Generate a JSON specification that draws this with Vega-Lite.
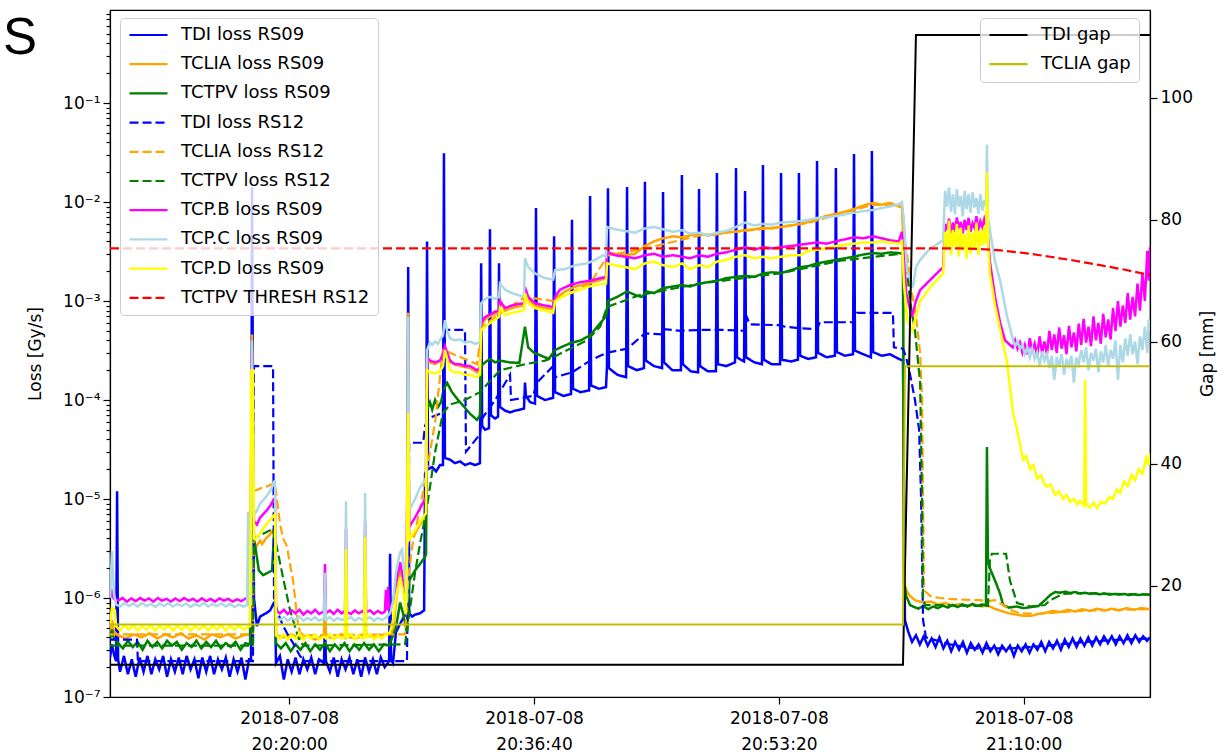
{
"$schema": "https://vega.github.io/schema/vega-lite/v6.json",
"width": 1040,
"height": 687,
"autosize": {"type": "none"},
"padding": {"left": 110, "top": 10, "right": 78, "bottom": 55},
"background": "white",
"title": {"text": "S", "orient": "none", "anchor": "start", "frame": "group", "dx": -107, "dy": 44, "fontSize": 51, "font": "Liberation Sans", "fontWeight": "normal", "color": "black", "baseline": "alphabetic", "align": "left"},
"config": {
  "font": "DejaVu Sans",
  "view": {"stroke": "black", "strokeWidth": 1.2},
  "axis": {"domainColor": "black", "domainWidth": 1.2, "tickColor": "black", "tickWidth": 1.2, "tickSize": 7, "labelColor": "black", "titleColor": "black", "grid": false, "labelFontSize": 17, "titleFontSize": 17, "titleFontWeight": "normal", "labelPadding": 3},
  "legend": {"labelFontSize": 18, "labelColor": "black", "symbolType": "stroke", "symbolSize": 1444, "symbolStrokeWidth": 2.2, "labelOffset": 12, "rowPadding": 11.2, "clipHeight": 18, "padding": 8, "fillColor": "rgba(255,255,255,0.8)", "strokeColor": "#cccccc", "cornerRadius": 4, "labelLimit": 400}
},
"datasets": {
"tdi09": [{"t":468,"v":2.5e-7},{"t":476,"v":3.4e-7},{"t":484,"v":2.7e-7},{"t":493,"v":2.3e-7},{"t":497,"v":1.2e-5},{"t":501,"v":2.4e-7},{"t":509,"v":1.8e-7},{"t":525,"v":2.6e-7},{"t":541,"v":1.7e-7},{"t":557,"v":2.4e-7},{"t":573,"v":1.6e-7},{"t":589,"v":2.5e-7},{"t":605,"v":1.8e-7},{"t":621,"v":2.6e-7},{"t":637,"v":1.7e-7},{"t":653,"v":2.4e-7},{"t":669,"v":1.9e-7},{"t":685,"v":2.6e-7},{"t":701,"v":1.6e-7},{"t":717,"v":2.4e-7},{"t":733,"v":1.8e-7},{"t":749,"v":2.5e-7},{"t":765,"v":1.7e-7},{"t":781,"v":2.6e-7},{"t":797,"v":1.9e-7},{"t":813,"v":2.4e-7},{"t":829,"v":1.55e-7},{"t":845,"v":2.5e-7},{"t":861,"v":1.8e-7},{"t":877,"v":2.6e-7},{"t":893,"v":1.7e-7},{"t":909,"v":2.4e-7},{"t":925,"v":1.9e-7},{"t":941,"v":2.5e-7},{"t":957,"v":1.6e-7},{"t":973,"v":2.4e-7},{"t":989,"v":1.8e-7},{"t":1005,"v":2.5e-7},{"t":1021,"v":1.5e-7},{"t":1036,"v":2.4e-7},{"t":1044,"v":2.4e-7},{"t":1048,"v":1.4e-2},{"t":1056,"v":1.0e-6},{"t":1068,"v":5.2e-7},{"t":1081,"v":6.5e-7},{"t":1105,"v":7.0e-7},{"t":1122,"v":7.5e-7},{"t":1138,"v":9.0e-7},{"t":1142,"v":9.0e-7},{"t":1146,"v":2.2e-7},{"t":1162,"v":2.6e-7},{"t":1178,"v":1.5e-7},{"t":1194,"v":2.4e-7},{"t":1210,"v":1.8e-7},{"t":1226,"v":2.5e-7},{"t":1242,"v":1.7e-7},{"t":1258,"v":2.4e-7},{"t":1274,"v":1.9e-7},{"t":1290,"v":2.5e-7},{"t":1306,"v":1.7e-7},{"t":1322,"v":2.4e-7},{"t":1342,"v":2.2e-7},{"t":1346,"v":5.5e-7},{"t":1350,"v":2.3e-7},{"t":1366,"v":1.8e-7},{"t":1382,"v":2.5e-7},{"t":1398,"v":1.6e-7},{"t":1414,"v":2.4e-7},{"t":1430,"v":1.9e-7},{"t":1446,"v":2.5e-7},{"t":1462,"v":1.7e-7},{"t":1478,"v":2.4e-7},{"t":1494,"v":1.6e-7},{"t":1510,"v":2.5e-7},{"t":1526,"v":1.8e-7},{"t":1542,"v":2.4e-7},{"t":1558,"v":1.7e-7},{"t":1574,"v":2.5e-7},{"t":1590,"v":2.0e-7},{"t":1608,"v":2.3e-7},{"t":1612,"v":2.8e-6},{"t":1616,"v":2.4e-7},{"t":1624,"v":2.2e-7},{"t":1636,"v":4.5e-7},{"t":1653,"v":5.5e-7},{"t":1669,"v":6.5e-7},{"t":1681,"v":7.0e-7},{"t":1686,"v":2.2e-3},{"t":1690,"v":7.0e-7},{"t":1702,"v":6.5e-7},{"t":1714,"v":6.8e-7},{"t":1734,"v":7.0e-7},{"t":1751,"v":7.5e-7},{"t":1755,"v":1.8e-5},{"t":1759,"v":1.9e-5},{"t":1763,"v":4.0e-3},{"t":1767,"v":2.0e-5},{"t":1784,"v":2.1e-5},{"t":1800,"v":1.9e-5},{"t":1816,"v":2.2e-5},{"t":1828,"v":2.2e-5},{"t":1832,"v":3.1e-2},{"t":1836,"v":2.6e-5},{"t":1857,"v":2.5e-5},{"t":1877,"v":2.3e-5},{"t":1898,"v":2.4e-5},{"t":1918,"v":2.2e-5},{"t":1939,"v":2.3e-5},{"t":1959,"v":2.2e-5},{"t":1979,"v":2.3e-5},{"t":1984,"v":2.4e-3},{"t":1988,"v":5.5e-5},{"t":2000,"v":5.0e-5},{"t":2016,"v":5.2e-5},{"t":2020,"v":5.3e-3},{"t":2024,"v":7.0e-5},{"t":2041,"v":6.5e-5},{"t":2053,"v":6.8e-5},{"t":2057,"v":2.4e-3},{"t":2061,"v":8.5e-5},{"t":2082,"v":7.8e-5},{"t":2102,"v":7.5e-5},{"t":2122,"v":7.8e-5},{"t":2143,"v":8.0e-5},{"t":2159,"v":8.2e-5},{"t":2163,"v":1.5e-4},{"t":2167,"v":1.1e-4},{"t":2184,"v":9.5e-5},{"t":2204,"v":9.2e-5},{"t":2208,"v":8.7e-3},{"t":2212,"v":1.1e-4},{"t":2245,"v":1.0e-4},{"t":2278,"v":1.05e-4},{"t":2282,"v":4.5e-3},{"t":2286,"v":1.2e-4},{"t":2320,"v":1.1e-4},{"t":2351,"v":1.15e-4},{"t":2355,"v":6.6e-3},{"t":2359,"v":1.3e-4},{"t":2390,"v":1.2e-4},{"t":2425,"v":1.25e-4},{"t":2429,"v":1.15e-2},{"t":2433,"v":1.4e-4},{"t":2465,"v":1.3e-4},{"t":2494,"v":1.35e-4},{"t":2498,"v":2.2e-4},{"t":2502,"v":1.38e-2},{"t":2506,"v":2.1e-4},{"t":2540,"v":1.8e-4},{"t":2576,"v":1.7e-4},{"t":2580,"v":1.42e-2},{"t":2584,"v":2.2e-4},{"t":2620,"v":2.0e-4},{"t":2649,"v":2.1e-4},{"t":2653,"v":1.6e-2},{"t":2657,"v":2.5e-4},{"t":2690,"v":2.2e-4},{"t":2723,"v":2.1e-4},{"t":2727,"v":1.26e-2},{"t":2731,"v":2.4e-4},{"t":2765,"v":2.0e-4},{"t":2800,"v":2.0e-4},{"t":2804,"v":1.87e-2},{"t":2808,"v":2.3e-4},{"t":2840,"v":1.95e-4},{"t":2870,"v":1.9e-4},{"t":2874,"v":1.35e-2},{"t":2878,"v":2.2e-4},{"t":2910,"v":1.95e-4},{"t":2943,"v":1.95e-4},{"t":2947,"v":1.96e-2},{"t":2951,"v":2.3e-4},{"t":2985,"v":2.2e-4},{"t":3021,"v":2.4e-4},{"t":3025,"v":2.2e-2},{"t":3029,"v":2.7e-4},{"t":3045,"v":2.55e-4},{"t":3058,"v":2.45e-4},{"t":3062,"v":1.29e-2},{"t":3066,"v":2.7e-4},{"t":3100,"v":2.4e-4},{"t":3131,"v":2.3e-4},{"t":3135,"v":2.36e-2},{"t":3139,"v":2.55e-4},{"t":3170,"v":2.3e-4},{"t":3205,"v":2.3e-4},{"t":3209,"v":1.96e-2},{"t":3213,"v":2.55e-4},{"t":3250,"v":2.45e-4},{"t":3278,"v":2.55e-4},{"t":3282,"v":1.96e-2},{"t":3287,"v":2.8e-4},{"t":3320,"v":2.6e-4},{"t":3352,"v":2.7e-4},{"t":3356,"v":2.6e-2},{"t":3360,"v":3.0e-4},{"t":3395,"v":2.7e-4},{"t":3429,"v":2.8e-4},{"t":3433,"v":2.2e-2},{"t":3437,"v":3.05e-4},{"t":3470,"v":2.8e-4},{"t":3503,"v":2.9e-4},{"t":3507,"v":3.06e-2},{"t":3511,"v":3.15e-4},{"t":3545,"v":2.9e-4},{"t":3576,"v":2.7e-4},{"t":3580,"v":3.27e-2},{"t":3585,"v":3.05e-4},{"t":3620,"v":2.8e-4},{"t":3654,"v":2.9e-4},{"t":3690,"v":2.6e-4},{"t":3707,"v":2.5e-4},{"t":3715,"v":6.0e-7},{"t":3728,"v":4.6e-7},{"t":3744,"v":3.6e-7},{"t":3760,"v":4.2e-7},{"t":3776,"v":3.4e-7},{"t":3792,"v":4.1e-7},{"t":3808,"v":3.3e-7},{"t":3824,"v":3.9e-7},{"t":3840,"v":3.2e-7},{"t":3856,"v":4.0e-7},{"t":3872,"v":3.1e-7},{"t":3888,"v":3.7e-7},{"t":3904,"v":2.9e-7},{"t":3920,"v":3.6e-7},{"t":3936,"v":3.0e-7},{"t":3952,"v":3.6e-7},{"t":3968,"v":2.8e-7},{"t":3984,"v":3.5e-7},{"t":4000,"v":3.0e-7},{"t":4016,"v":3.4e-7},{"t":4032,"v":2.8e-7},{"t":4048,"v":3.5e-7},{"t":4064,"v":2.9e-7},{"t":4080,"v":3.3e-7},{"t":4096,"v":2.7e-7},{"t":4112,"v":3.3e-7},{"t":4128,"v":2.9e-7},{"t":4144,"v":3.3e-7},{"t":4160,"v":2.6e-7},{"t":4176,"v":3.3e-7},{"t":4192,"v":2.9e-7},{"t":4208,"v":3.4e-7},{"t":4224,"v":2.8e-7},{"t":4240,"v":3.4e-7},{"t":4256,"v":3.0e-7},{"t":4272,"v":3.6e-7},{"t":4288,"v":2.9e-7},{"t":4304,"v":3.6e-7},{"t":4320,"v":3.1e-7},{"t":4336,"v":3.7e-7},{"t":4352,"v":3.0e-7},{"t":4368,"v":3.8e-7},{"t":4384,"v":3.2e-7},{"t":4400,"v":3.9e-7},{"t":4416,"v":3.2e-7},{"t":4432,"v":3.9e-7},{"t":4448,"v":3.3e-7},{"t":4464,"v":4.0e-7},{"t":4480,"v":3.3e-7},{"t":4496,"v":4.0e-7},{"t":4512,"v":3.4e-7},{"t":4528,"v":4.1e-7},{"t":4544,"v":3.5e-7},{"t":4560,"v":4.1e-7},{"t":4576,"v":3.4e-7},{"t":4592,"v":4.1e-7},{"t":4608,"v":3.5e-7},{"t":4624,"v":4.2e-7},{"t":4640,"v":3.5e-7},{"t":4656,"v":4.2e-7},{"t":4672,"v":3.6e-7},{"t":4688,"v":4.1e-7},{"t":4704,"v":3.7e-7},{"t":4716,"v":4.0e-7}],
"tclia09": [{"t":468,"v":4.5e-7},{"t":476,"v":6.0e-7},{"t":484,"v":4.6e-7},{"t":501,"v":4.2e-7},{"t":533,"v":3.9e-7},{"t":565,"v":4.3e-7},{"t":597,"v":4.0e-7},{"t":629,"v":4.4e-7},{"t":661,"v":3.9e-7},{"t":693,"v":4.3e-7},{"t":725,"v":4.0e-7},{"t":757,"v":4.4e-7},{"t":789,"v":3.9e-7},{"t":821,"v":4.2e-7},{"t":853,"v":3.8e-7},{"t":885,"v":4.3e-7},{"t":917,"v":4.0e-7},{"t":949,"v":4.3e-7},{"t":981,"v":3.9e-7},{"t":1013,"v":4.2e-7},{"t":1040,"v":4.3e-7},{"t":1048,"v":4.6e-4},{"t":1056,"v":3.0e-6},{"t":1068,"v":3.4e-6},{"t":1081,"v":3.8e-6},{"t":1089,"v":3.5e-6},{"t":1105,"v":4.0e-6},{"t":1122,"v":4.4e-6},{"t":1138,"v":5.0e-6},{"t":1142,"v":5.0e-6},{"t":1146,"v":4.2e-7},{"t":1178,"v":4.0e-7},{"t":1210,"v":4.3e-7},{"t":1242,"v":3.9e-7},{"t":1274,"v":4.2e-7},{"t":1306,"v":3.8e-7},{"t":1342,"v":4.2e-7},{"t":1346,"v":1.5e-6},{"t":1350,"v":4.1e-7},{"t":1382,"v":3.9e-7},{"t":1414,"v":4.3e-7},{"t":1428,"v":4.0e-7},{"t":1432,"v":2.5e-6},{"t":1436,"v":4.1e-7},{"t":1470,"v":3.9e-7},{"t":1506,"v":4.2e-7},{"t":1510,"v":3.0e-6},{"t":1514,"v":4.2e-7},{"t":1550,"v":4.0e-7},{"t":1590,"v":4.3e-7},{"t":1624,"v":4.5e-7},{"t":1636,"v":9.0e-7},{"t":1653,"v":1.9e-6},{"t":1661,"v":1.7e-6},{"t":1673,"v":1.0e-6},{"t":1681,"v":7.0e-7},{"t":1686,"v":7.6e-4},{"t":1690,"v":4.0e-6},{"t":1714,"v":4.5e-6},{"t":1734,"v":5.5e-6},{"t":1755,"v":6.5e-6},{"t":1759,"v":7.0e-6},{"t":1763,"v":2.6e-4},{"t":1775,"v":2.4e-4},{"t":1796,"v":2.3e-4},{"t":1816,"v":2.5e-4},{"t":1828,"v":2.9e-4},{"t":1836,"v":3.3e-4},{"t":1857,"v":2.4e-4},{"t":1898,"v":2.2e-4},{"t":1939,"v":2.1e-4},{"t":1967,"v":1.9e-4},{"t":1979,"v":2.0e-4},{"t":1984,"v":5.6e-4},{"t":2000,"v":6.5e-4},{"t":2020,"v":7.0e-4},{"t":2041,"v":7.4e-4},{"t":2057,"v":7.6e-4},{"t":2061,"v":1.0e-3},{"t":2082,"v":8.0e-4},{"t":2110,"v":8.5e-4},{"t":2135,"v":8.8e-4},{"t":2159,"v":9.0e-4},{"t":2163,"v":1.3e-3},{"t":2176,"v":1.05e-3},{"t":2204,"v":9.0e-4},{"t":2245,"v":8.5e-4},{"t":2278,"v":8.3e-4},{"t":2286,"v":1.05e-3},{"t":2327,"v":1.25e-3},{"t":2368,"v":1.4e-3},{"t":2417,"v":1.5e-3},{"t":2461,"v":1.6e-3},{"t":2494,"v":1.7e-3},{"t":2498,"v":3.1e-3},{"t":2531,"v":3.0e-3},{"t":2572,"v":2.9e-3},{"t":2613,"v":3.0e-3},{"t":2633,"v":3.3e-3},{"t":2653,"v":3.6e-3},{"t":2690,"v":4.0e-3},{"t":2727,"v":4.3e-3},{"t":2768,"v":4.5e-3},{"t":2804,"v":4.4e-3},{"t":2837,"v":4.6e-3},{"t":2874,"v":4.8e-3},{"t":2910,"v":4.6e-3},{"t":2943,"v":4.7e-3},{"t":2980,"v":4.9e-3},{"t":3021,"v":5.0e-3},{"t":3062,"v":5.2e-3},{"t":3100,"v":5.3e-3},{"t":3135,"v":5.5e-3},{"t":3170,"v":5.4e-3},{"t":3209,"v":5.6e-3},{"t":3250,"v":5.8e-3},{"t":3287,"v":6.0e-3},{"t":3320,"v":6.3e-3},{"t":3356,"v":6.7e-3},{"t":3390,"v":7.2e-3},{"t":3433,"v":7.6e-3},{"t":3470,"v":8.0e-3},{"t":3507,"v":8.5e-3},{"t":3545,"v":9.2e-3},{"t":3585,"v":9.8e-3},{"t":3620,"v":9.4e-3},{"t":3654,"v":9.8e-3},{"t":3690,"v":9.0e-3},{"t":3703,"v":8.8e-3},{"t":3707,"v":5.0e-3},{"t":3711,"v":2.0e-6},{"t":3715,"v":1.3e-6},{"t":3724,"v":1.15e-6},{"t":3736,"v":1.05e-6},{"t":3756,"v":9.5e-7},{"t":3789,"v":9.0e-7},{"t":3820,"v":9.2e-7},{"t":3850,"v":8.6e-7},{"t":3880,"v":8.9e-7},{"t":3910,"v":8.4e-7},{"t":3940,"v":8.7e-7},{"t":3970,"v":8.3e-7},{"t":4000,"v":8.6e-7},{"t":4030,"v":8.2e-7},{"t":4046,"v":8.4e-7},{"t":4050,"v":1.0e-6},{"t":4054,"v":8.4e-7},{"t":4080,"v":7.8e-7},{"t":4110,"v":7.4e-7},{"t":4140,"v":7.0e-7},{"t":4170,"v":6.8e-7},{"t":4200,"v":6.6e-7},{"t":4230,"v":6.6e-7},{"t":4260,"v":6.9e-7},{"t":4290,"v":7.1e-7},{"t":4320,"v":7.4e-7},{"t":4350,"v":7.2e-7},{"t":4380,"v":7.6e-7},{"t":4410,"v":7.3e-7},{"t":4440,"v":7.7e-7},{"t":4470,"v":7.4e-7},{"t":4500,"v":7.8e-7},{"t":4530,"v":7.5e-7},{"t":4560,"v":7.8e-7},{"t":4590,"v":7.5e-7},{"t":4620,"v":7.9e-7},{"t":4650,"v":7.6e-7},{"t":4680,"v":7.9e-7},{"t":4716,"v":7.7e-7}],
"tctpv09": [{"t":468,"v":3.8e-7},{"t":476,"v":4.8e-7},{"t":484,"v":3.9e-7},{"t":501,"v":3.5e-7},{"t":521,"v":3.1e-7},{"t":541,"v":3.7e-7},{"t":561,"v":3.2e-7},{"t":581,"v":3.6e-7},{"t":601,"v":3.0e-7},{"t":621,"v":3.7e-7},{"t":641,"v":3.2e-7},{"t":661,"v":3.6e-7},{"t":681,"v":3.1e-7},{"t":701,"v":3.7e-7},{"t":721,"v":3.3e-7},{"t":741,"v":3.6e-7},{"t":761,"v":3.0e-7},{"t":781,"v":3.5e-7},{"t":801,"v":3.2e-7},{"t":821,"v":3.7e-7},{"t":841,"v":3.1e-7},{"t":861,"v":3.6e-7},{"t":881,"v":3.2e-7},{"t":901,"v":3.7e-7},{"t":921,"v":3.1e-7},{"t":941,"v":3.5e-7},{"t":961,"v":3.2e-7},{"t":981,"v":3.6e-7},{"t":1001,"v":3.0e-7},{"t":1021,"v":3.5e-7},{"t":1040,"v":3.4e-7},{"t":1048,"v":1.0e-4},{"t":1056,"v":4.0e-6},{"t":1064,"v":3.0e-6},{"t":1076,"v":1.9e-6},{"t":1093,"v":1.7e-6},{"t":1113,"v":1.8e-6},{"t":1130,"v":1.9e-6},{"t":1138,"v":4.5e-6},{"t":1142,"v":4.8e-6},{"t":1146,"v":3.5e-7},{"t":1166,"v":3.1e-7},{"t":1186,"v":3.5e-7},{"t":1206,"v":2.9e-7},{"t":1226,"v":3.4e-7},{"t":1246,"v":3.0e-7},{"t":1266,"v":3.5e-7},{"t":1286,"v":2.9e-7},{"t":1306,"v":3.4e-7},{"t":1326,"v":3.0e-7},{"t":1346,"v":3.5e-7},{"t":1366,"v":2.9e-7},{"t":1386,"v":3.4e-7},{"t":1406,"v":3.0e-7},{"t":1426,"v":3.5e-7},{"t":1446,"v":2.9e-7},{"t":1466,"v":3.4e-7},{"t":1486,"v":3.0e-7},{"t":1506,"v":3.5e-7},{"t":1526,"v":3.0e-7},{"t":1546,"v":3.4e-7},{"t":1566,"v":2.9e-7},{"t":1586,"v":3.4e-7},{"t":1608,"v":3.3e-7},{"t":1636,"v":5.0e-7},{"t":1653,"v":9.0e-7},{"t":1665,"v":7.0e-7},{"t":1681,"v":4.5e-7},{"t":1690,"v":1.5e-6},{"t":1714,"v":1.9e-6},{"t":1734,"v":2.2e-6},{"t":1755,"v":2.6e-6},{"t":1759,"v":2.8e-6},{"t":1763,"v":8.0e-5},{"t":1775,"v":9.5e-5},{"t":1784,"v":8.0e-5},{"t":1796,"v":1.0e-4},{"t":1808,"v":8.5e-5},{"t":1820,"v":9.5e-5},{"t":1832,"v":1.3e-4},{"t":1845,"v":1.49e-4},{"t":1865,"v":1.2e-4},{"t":1890,"v":1.0e-4},{"t":1915,"v":8.5e-5},{"t":1940,"v":7.2e-5},{"t":1967,"v":6.3e-5},{"t":1979,"v":7.0e-5},{"t":1984,"v":2.2e-4},{"t":2000,"v":2.4e-4},{"t":2020,"v":2.6e-4},{"t":2041,"v":2.4e-4},{"t":2061,"v":2.5e-4},{"t":2100,"v":2.4e-4},{"t":2140,"v":2.37e-4},{"t":2163,"v":5.5e-4},{"t":2176,"v":3.4e-4},{"t":2200,"v":3.0e-4},{"t":2230,"v":2.8e-4},{"t":2260,"v":2.6e-4},{"t":2286,"v":3.2e-4},{"t":2320,"v":3.5e-4},{"t":2355,"v":3.8e-4},{"t":2390,"v":4.0e-4},{"t":2429,"v":4.5e-4},{"t":2461,"v":5.6e-4},{"t":2494,"v":7.0e-4},{"t":2502,"v":1.0e-3},{"t":2540,"v":1.1e-3},{"t":2580,"v":1.25e-3},{"t":2613,"v":1.15e-3},{"t":2640,"v":1.1e-3},{"t":2660,"v":1.25e-3},{"t":2690,"v":1.2e-3},{"t":2727,"v":1.35e-3},{"t":2768,"v":1.4e-3},{"t":2804,"v":1.45e-3},{"t":2837,"v":1.4e-3},{"t":2874,"v":1.5e-3},{"t":2910,"v":1.55e-3},{"t":2947,"v":1.6e-3},{"t":2985,"v":1.7e-3},{"t":3025,"v":1.75e-3},{"t":3062,"v":1.8e-3},{"t":3100,"v":1.75e-3},{"t":3135,"v":1.9e-3},{"t":3170,"v":1.95e-3},{"t":3209,"v":1.92e-3},{"t":3250,"v":2.05e-3},{"t":3287,"v":2.2e-3},{"t":3320,"v":2.25e-3},{"t":3356,"v":2.4e-3},{"t":3395,"v":2.5e-3},{"t":3433,"v":2.6e-3},{"t":3470,"v":2.7e-3},{"t":3507,"v":2.8e-3},{"t":3545,"v":2.95e-3},{"t":3585,"v":3.05e-3},{"t":3620,"v":3.0e-3},{"t":3654,"v":3.1e-3},{"t":3690,"v":3.05e-3},{"t":3707,"v":3.0e-3},{"t":3711,"v":1.5e-6},{"t":3720,"v":1.05e-6},{"t":3736,"v":8.5e-7},{"t":3748,"v":8.2e-7},{"t":3770,"v":7.8e-7},{"t":3790,"v":8.3e-7},{"t":3810,"v":7.7e-7},{"t":3830,"v":8.2e-7},{"t":3850,"v":7.9e-7},{"t":3870,"v":8.4e-7},{"t":3890,"v":8.0e-7},{"t":3910,"v":8.5e-7},{"t":3930,"v":8.1e-7},{"t":3950,"v":8.6e-7},{"t":3970,"v":8.2e-7},{"t":3990,"v":8.7e-7},{"t":4010,"v":8.3e-7},{"t":4030,"v":8.6e-7},{"t":4046,"v":8.4e-7},{"t":4050,"v":3.35e-5},{"t":4054,"v":2.4e-6},{"t":4062,"v":2.0e-6},{"t":4083,"v":1.5e-6},{"t":4104,"v":1.1e-6},{"t":4116,"v":8.5e-7},{"t":4140,"v":8.0e-7},{"t":4170,"v":8.2e-7},{"t":4200,"v":7.9e-7},{"t":4230,"v":8.1e-7},{"t":4260,"v":8.3e-7},{"t":4287,"v":9.5e-7},{"t":4308,"v":1.07e-6},{"t":4328,"v":1.15e-6},{"t":4349,"v":1.13e-6},{"t":4370,"v":1.16e-6},{"t":4390,"v":1.12e-6},{"t":4410,"v":1.15e-6},{"t":4430,"v":1.11e-6},{"t":4450,"v":1.13e-6},{"t":4470,"v":1.10e-6},{"t":4490,"v":1.12e-6},{"t":4510,"v":1.09e-6},{"t":4530,"v":1.11e-6},{"t":4550,"v":1.08e-6},{"t":4570,"v":1.10e-6},{"t":4590,"v":1.08e-6},{"t":4610,"v":1.10e-6},{"t":4630,"v":1.07e-6},{"t":4650,"v":1.09e-6},{"t":4670,"v":1.07e-6},{"t":4690,"v":1.09e-6},{"t":4716,"v":1.08e-6}],
"tdi12": [{"t":468,"v":3.8e-7},{"t":578,"v":3.8e-7},{"t":582,"v":2.3e-7},{"t":1052,"v":2.3e-7},{"t":1056,"v":2.2e-4},{"t":1134,"v":2.2e-4},{"t":1138,"v":1.0e-6},{"t":1150,"v":7.5e-7},{"t":1171,"v":5.5e-7},{"t":1191,"v":4.4e-7},{"t":1216,"v":3.5e-7},{"t":1244,"v":2.6e-7},{"t":1265,"v":2.3e-7},{"t":1681,"v":2.3e-7},{"t":1690,"v":3.7e-5},{"t":1747,"v":3.7e-5},{"t":1755,"v":5.5e-5},{"t":1767,"v":6.5e-5},{"t":1800,"v":7.0e-5},{"t":1828,"v":7.5e-5},{"t":1836,"v":5.1e-4},{"t":1918,"v":5.1e-4},{"t":1922,"v":3.0e-5},{"t":1979,"v":4.5e-5},{"t":1988,"v":6.5e-5},{"t":2041,"v":1.0e-4},{"t":2102,"v":1.8e-4},{"t":2106,"v":1.0e-4},{"t":2196,"v":1.1e-4},{"t":2212,"v":1.5e-4},{"t":2278,"v":2.2e-4},{"t":2286,"v":1.7e-4},{"t":2355,"v":1.9e-4},{"t":2429,"v":2.5e-4},{"t":2470,"v":2.8e-4},{"t":2498,"v":3.0e-4},{"t":2580,"v":3.3e-4},{"t":2653,"v":4.7e-4},{"t":2723,"v":4.6e-4},{"t":2731,"v":5.2e-4},{"t":2800,"v":5.0e-4},{"t":2878,"v":5.1e-4},{"t":2980,"v":5.1e-4},{"t":3062,"v":5.0e-4},{"t":3070,"v":6.8e-4},{"t":3082,"v":5.8e-4},{"t":3205,"v":5.7e-4},{"t":3225,"v":5.5e-4},{"t":3287,"v":5.3e-4},{"t":3356,"v":5.2e-4},{"t":3368,"v":6.1e-4},{"t":3503,"v":6.1e-4},{"t":3519,"v":7.6e-4},{"t":3666,"v":7.6e-4},{"t":3670,"v":3.4e-4},{"t":3707,"v":3.3e-4},{"t":3720,"v":2.7e-4},{"t":3736,"v":1.8e-4},{"t":3756,"v":1.0e-4},{"t":3773,"v":5.0e-5},{"t":3781,"v":1.0e-5},{"t":3789,"v":6.0e-7},{"t":3801,"v":4.0e-7},{"t":3900,"v":3.4e-7},{"t":4000,"v":3.1e-7},{"t":4150,"v":3.1e-7},{"t":4300,"v":3.3e-7},{"t":4450,"v":3.6e-7},{"t":4600,"v":3.8e-7},{"t":4716,"v":3.9e-7}],
"tclia12": [{"t":468,"v":4.3e-7},{"t":1052,"v":4.3e-7},{"t":1056,"v":1.2e-5},{"t":1089,"v":1.3e-5},{"t":1113,"v":1.35e-5},{"t":1138,"v":1.45e-5},{"t":1146,"v":1.2e-5},{"t":1162,"v":5.7e-6},{"t":1175,"v":4.0e-6},{"t":1191,"v":3.3e-6},{"t":1203,"v":2.2e-6},{"t":1216,"v":1.5e-6},{"t":1228,"v":8.0e-7},{"t":1236,"v":5.5e-7},{"t":1244,"v":4.5e-7},{"t":1260,"v":4.2e-7},{"t":1673,"v":4.3e-7},{"t":1686,"v":1.5e-6},{"t":1702,"v":3.3e-6},{"t":1734,"v":8.0e-6},{"t":1763,"v":2.0e-5},{"t":1796,"v":6.0e-5},{"t":1828,"v":3.2e-4},{"t":1857,"v":3.0e-4},{"t":1967,"v":2.3e-4},{"t":1988,"v":5.5e-4},{"t":2061,"v":7.5e-4},{"t":2163,"v":1.1e-3},{"t":2278,"v":1.0e-3},{"t":2429,"v":1.5e-3},{"t":2502,"v":2.9e-3},{"t":2633,"v":3.3e-3},{"t":2878,"v":4.6e-3},{"t":3123,"v":5.3e-3},{"t":3315,"v":6.1e-3},{"t":3585,"v":9.4e-3},{"t":3695,"v":9.2e-3},{"t":3707,"v":8.5e-3},{"t":3715,"v":4.0e-3},{"t":3728,"v":2.5e-3},{"t":3744,"v":1.2e-3},{"t":3760,"v":7.0e-4},{"t":3777,"v":3.0e-4},{"t":3785,"v":1.0e-4},{"t":3789,"v":1.0e-5},{"t":3793,"v":1.2e-6},{"t":3818,"v":1.05e-6},{"t":3858,"v":1.0e-6},{"t":3899,"v":9.8e-7},{"t":3960,"v":9.6e-7},{"t":4022,"v":9.5e-7},{"t":4054,"v":9.3e-7},{"t":4083,"v":9.5e-7},{"t":4116,"v":8.5e-7},{"t":4144,"v":7.6e-7},{"t":4185,"v":7.0e-7},{"t":4267,"v":6.9e-7},{"t":4349,"v":7.2e-7},{"t":4430,"v":7.4e-7},{"t":4512,"v":7.5e-7},{"t":4594,"v":7.6e-7},{"t":4716,"v":7.7e-7}],
"tctpv12": [{"t":468,"v":3.3e-7},{"t":1052,"v":3.3e-7},{"t":1056,"v":4.0e-6},{"t":1134,"v":5.0e-6},{"t":1138,"v":4.5e-6},{"t":1175,"v":1.6e-6},{"t":1203,"v":7.6e-7},{"t":1232,"v":4.4e-7},{"t":1244,"v":3.6e-7},{"t":1260,"v":3.3e-7},{"t":1673,"v":3.4e-7},{"t":1694,"v":8.0e-7},{"t":1714,"v":1.8e-6},{"t":1734,"v":3.5e-6},{"t":1763,"v":8.3e-6},{"t":1796,"v":3.0e-5},{"t":1828,"v":7.4e-5},{"t":1857,"v":9.0e-5},{"t":1918,"v":1.0e-4},{"t":1979,"v":1.2e-4},{"t":2061,"v":2.0e-4},{"t":2163,"v":2.3e-4},{"t":2245,"v":2.5e-4},{"t":2278,"v":2.7e-4},{"t":2347,"v":3.3e-4},{"t":2417,"v":4.0e-4},{"t":2470,"v":5.5e-4},{"t":2498,"v":8.7e-4},{"t":2633,"v":1.15e-3},{"t":2878,"v":1.5e-3},{"t":3205,"v":1.9e-3},{"t":3450,"v":2.55e-3},{"t":3695,"v":3.0e-3},{"t":3707,"v":3.0e-3},{"t":3720,"v":2.5e-3},{"t":3736,"v":1.0e-3},{"t":3756,"v":5.0e-4},{"t":3777,"v":1.5e-4},{"t":3785,"v":1.0e-5},{"t":3789,"v":1.0e-6},{"t":3797,"v":8.5e-7},{"t":4054,"v":8.3e-7},{"t":4062,"v":2.4e-6},{"t":4070,"v":2.8e-6},{"t":4128,"v":2.8e-6},{"t":4144,"v":1.5e-6},{"t":4173,"v":8.9e-7},{"t":4226,"v":8.2e-7},{"t":4287,"v":8.5e-7},{"t":4308,"v":9.5e-7},{"t":4361,"v":1.1e-6},{"t":4430,"v":1.12e-6},{"t":4716,"v":1.08e-6}],
"tcpb": [{"t":468,"v":1.0e-6},{"t":476,"v":1.15e-6},{"t":484,"v":9.8e-7},{"t":501,"v":9.4e-7},{"t":519,"v":1.0e-6},{"t":537,"v":9.2e-7},{"t":555,"v":9.9e-7},{"t":573,"v":9.3e-7},{"t":591,"v":1.0e-6},{"t":609,"v":9.4e-7},{"t":627,"v":9.9e-7},{"t":645,"v":9.2e-7},{"t":663,"v":1.0e-6},{"t":681,"v":9.4e-7},{"t":699,"v":9.8e-7},{"t":717,"v":9.2e-7},{"t":735,"v":9.9e-7},{"t":753,"v":9.3e-7},{"t":771,"v":1.0e-6},{"t":789,"v":9.4e-7},{"t":807,"v":9.8e-7},{"t":825,"v":9.2e-7},{"t":843,"v":9.9e-7},{"t":861,"v":9.3e-7},{"t":879,"v":9.8e-7},{"t":897,"v":9.2e-7},{"t":915,"v":9.9e-7},{"t":933,"v":9.4e-7},{"t":951,"v":9.8e-7},{"t":969,"v":9.2e-7},{"t":987,"v":9.7e-7},{"t":1005,"v":9.3e-7},{"t":1023,"v":9.9e-7},{"t":1040,"v":9.7e-7},{"t":1048,"v":3.0e-4},{"t":1056,"v":6.0e-6},{"t":1068,"v":5.5e-6},{"t":1081,"v":6.5e-6},{"t":1105,"v":7.5e-6},{"t":1122,"v":8.5e-6},{"t":1138,"v":1.0e-5},{"t":1142,"v":1.0e-5},{"t":1146,"v":7.5e-7},{"t":1162,"v":7.0e-7},{"t":1178,"v":7.6e-7},{"t":1194,"v":6.9e-7},{"t":1210,"v":7.5e-7},{"t":1226,"v":7.0e-7},{"t":1242,"v":7.6e-7},{"t":1258,"v":6.8e-7},{"t":1274,"v":7.4e-7},{"t":1290,"v":7.0e-7},{"t":1306,"v":7.6e-7},{"t":1322,"v":6.9e-7},{"t":1342,"v":7.3e-7},{"t":1346,"v":2.2e-6},{"t":1350,"v":7.0e-7},{"t":1366,"v":7.5e-7},{"t":1382,"v":6.9e-7},{"t":1398,"v":7.6e-7},{"t":1414,"v":7.0e-7},{"t":1428,"v":7.4e-7},{"t":1432,"v":5.0e-6},{"t":1436,"v":7.2e-7},{"t":1452,"v":6.9e-7},{"t":1468,"v":7.5e-7},{"t":1484,"v":7.0e-7},{"t":1500,"v":7.4e-7},{"t":1506,"v":7.0e-7},{"t":1510,"v":6.0e-6},{"t":1514,"v":7.2e-7},{"t":1530,"v":7.5e-7},{"t":1546,"v":6.9e-7},{"t":1562,"v":7.4e-7},{"t":1578,"v":7.0e-7},{"t":1591,"v":7.3e-7},{"t":1595,"v":1.2e-6},{"t":1600,"v":7.5e-7},{"t":1604,"v":1.3e-6},{"t":1608,"v":8.0e-7},{"t":1624,"v":9.0e-7},{"t":1636,"v":1.4e-6},{"t":1653,"v":2.3e-6},{"t":1665,"v":1.6e-6},{"t":1677,"v":9.0e-7},{"t":1686,"v":8.5e-5},{"t":1690,"v":5.2e-6},{"t":1714,"v":6.5e-6},{"t":1734,"v":8.0e-6},{"t":1755,"v":1.0e-5},{"t":1759,"v":1.05e-5},{"t":1763,"v":2.7e-4},{"t":1775,"v":2.5e-4},{"t":1796,"v":2.4e-4},{"t":1816,"v":2.5e-4},{"t":1828,"v":2.9e-4},{"t":1836,"v":3.5e-4},{"t":1857,"v":2.5e-4},{"t":1877,"v":2.3e-4},{"t":1898,"v":2.3e-4},{"t":1918,"v":2.2e-4},{"t":1939,"v":2.2e-4},{"t":1967,"v":2.0e-4},{"t":1979,"v":2.1e-4},{"t":1984,"v":6.0e-4},{"t":2000,"v":6.9e-4},{"t":2020,"v":7.3e-4},{"t":2041,"v":7.8e-4},{"t":2057,"v":8.0e-4},{"t":2061,"v":1.0e-3},{"t":2082,"v":8.5e-4},{"t":2110,"v":9.0e-4},{"t":2135,"v":9.3e-4},{"t":2159,"v":9.5e-4},{"t":2163,"v":1.38e-3},{"t":2176,"v":1.1e-3},{"t":2204,"v":9.5e-4},{"t":2245,"v":9.0e-4},{"t":2278,"v":8.7e-4},{"t":2286,"v":1.1e-3},{"t":2306,"v":1.3e-3},{"t":2347,"v":1.45e-3},{"t":2388,"v":1.55e-3},{"t":2429,"v":1.6e-3},{"t":2470,"v":1.7e-3},{"t":2494,"v":1.75e-3},{"t":2498,"v":3.1e-3},{"t":2531,"v":2.9e-3},{"t":2572,"v":2.8e-3},{"t":2613,"v":2.7e-3},{"t":2653,"v":2.9e-3},{"t":2690,"v":3.0e-3},{"t":2727,"v":2.8e-3},{"t":2768,"v":2.9e-3},{"t":2804,"v":2.8e-3},{"t":2837,"v":2.7e-3},{"t":2874,"v":2.9e-3},{"t":2910,"v":2.8e-3},{"t":2947,"v":3.0e-3},{"t":2985,"v":3.1e-3},{"t":3025,"v":3.3e-3},{"t":3062,"v":3.5e-3},{"t":3100,"v":3.3e-3},{"t":3135,"v":3.5e-3},{"t":3170,"v":3.4e-3},{"t":3209,"v":3.5e-3},{"t":3250,"v":3.6e-3},{"t":3287,"v":3.7e-3},{"t":3320,"v":3.8e-3},{"t":3356,"v":3.9e-3},{"t":3395,"v":3.8e-3},{"t":3433,"v":4.0e-3},{"t":3470,"v":4.2e-3},{"t":3507,"v":4.4e-3},{"t":3545,"v":4.3e-3},{"t":3585,"v":4.5e-3},{"t":3620,"v":4.3e-3},{"t":3654,"v":4.1e-3},{"t":3690,"v":4.0e-3},{"t":3703,"v":5.0e-3},{"t":3711,"v":3.0e-3},{"t":3720,"v":1.2e-3},{"t":3744,"v":6.9e-4},{"t":3760,"v":1.0e-3},{"t":3777,"v":1.29e-3},{"t":3818,"v":1.63e-3},{"t":3871,"v":2.2e-3},{"t":3879,"v":6.0e-3},{"t":3887,"v":5.2e-3},{"t":3895,"v":6.8e-3},{"t":3903,"v":4.9e-3},{"t":3911,"v":6.2e-3},{"t":3919,"v":5.0e-3},{"t":3927,"v":7.0e-3},{"t":3935,"v":5.4e-3},{"t":3943,"v":6.3e-3},{"t":3951,"v":4.8e-3},{"t":3959,"v":6.6e-3},{"t":3967,"v":5.2e-3},{"t":3975,"v":6.9e-3},{"t":3983,"v":5.0e-3},{"t":3991,"v":6.1e-3},{"t":3999,"v":5.5e-3},{"t":4007,"v":7.2e-3},{"t":4015,"v":5.1e-3},{"t":4023,"v":6.4e-3},{"t":4031,"v":5.6e-3},{"t":4039,"v":6.7e-3},{"t":4046,"v":5.8e-3},{"t":4050,"v":8.0e-3},{"t":4054,"v":4.5e-3},{"t":4062,"v":2.5e-3},{"t":4083,"v":1.1e-3},{"t":4104,"v":6.0e-4},{"t":4124,"v":4.0e-4},{"t":4144,"v":3.6e-4},{"t":4155,"v":3.4e-4},{"t":4165,"v":4.0e-4},{"t":4175,"v":3.3e-4},{"t":4185,"v":3.8e-4},{"t":4195,"v":3.0e-4},{"t":4205,"v":3.6e-4},{"t":4215,"v":2.9e-4},{"t":4225,"v":4.2e-4},{"t":4235,"v":3.1e-4},{"t":4245,"v":3.7e-4},{"t":4255,"v":2.8e-4},{"t":4265,"v":4.4e-4},{"t":4275,"v":3.0e-4},{"t":4285,"v":3.9e-4},{"t":4295,"v":2.9e-4},{"t":4305,"v":5.0e-4},{"t":4315,"v":3.2e-4},{"t":4325,"v":4.6e-4},{"t":4335,"v":3.0e-4},{"t":4345,"v":5.4e-4},{"t":4355,"v":3.3e-4},{"t":4365,"v":4.5e-4},{"t":4375,"v":2.9e-4},{"t":4385,"v":5.6e-4},{"t":4395,"v":3.4e-4},{"t":4405,"v":4.8e-4},{"t":4415,"v":3.1e-4},{"t":4425,"v":5.9e-4},{"t":4435,"v":3.6e-4},{"t":4445,"v":6.6e-4},{"t":4455,"v":3.8e-4},{"t":4465,"v":5.5e-4},{"t":4475,"v":3.5e-4},{"t":4485,"v":7.0e-4},{"t":4495,"v":4.0e-4},{"t":4505,"v":6.0e-4},{"t":4515,"v":3.7e-4},{"t":4525,"v":7.4e-4},{"t":4535,"v":4.3e-4},{"t":4545,"v":6.5e-4},{"t":4555,"v":4.1e-4},{"t":4565,"v":8.5e-4},{"t":4575,"v":5.0e-4},{"t":4585,"v":1.0e-3},{"t":4595,"v":5.5e-4},{"t":4605,"v":9.0e-4},{"t":4615,"v":6.0e-4},{"t":4625,"v":1.2e-3},{"t":4635,"v":6.5e-4},{"t":4645,"v":1.1e-3},{"t":4655,"v":7.0e-4},{"t":4665,"v":1.5e-3},{"t":4675,"v":8.0e-4},{"t":4685,"v":1.9e-3},{"t":4695,"v":1.0e-3},{"t":4705,"v":3.2e-3},{"t":4711,"v":1.6e-3},{"t":4716,"v":3.5e-3}],
"tcpc": [{"t":468,"v":1.0e-6},{"t":476,"v":3.0e-6},{"t":484,"v":1.1e-6},{"t":493,"v":8.6e-7},{"t":509,"v":8.2e-7},{"t":527,"v":8.9e-7},{"t":545,"v":8.3e-7},{"t":563,"v":8.8e-7},{"t":581,"v":8.2e-7},{"t":599,"v":8.9e-7},{"t":617,"v":8.3e-7},{"t":635,"v":8.7e-7},{"t":653,"v":8.1e-7},{"t":671,"v":8.8e-7},{"t":689,"v":8.3e-7},{"t":707,"v":8.9e-7},{"t":725,"v":8.2e-7},{"t":743,"v":8.7e-7},{"t":761,"v":8.3e-7},{"t":779,"v":8.8e-7},{"t":797,"v":8.1e-7},{"t":815,"v":8.7e-7},{"t":833,"v":8.3e-7},{"t":851,"v":8.9e-7},{"t":869,"v":8.2e-7},{"t":887,"v":8.7e-7},{"t":905,"v":8.3e-7},{"t":923,"v":8.8e-7},{"t":941,"v":8.2e-7},{"t":959,"v":8.7e-7},{"t":977,"v":8.1e-7},{"t":995,"v":8.6e-7},{"t":1013,"v":8.2e-7},{"t":1028,"v":8.5e-7},{"t":1032,"v":7.4e-6},{"t":1036,"v":8.5e-7},{"t":1044,"v":8.6e-7},{"t":1048,"v":4.0e-4},{"t":1056,"v":7.0e-6},{"t":1068,"v":7.6e-6},{"t":1081,"v":9.0e-6},{"t":1105,"v":1.05e-5},{"t":1122,"v":1.2e-5},{"t":1134,"v":1.4e-5},{"t":1142,"v":1.55e-5},{"t":1146,"v":6.4e-7},{"t":1162,"v":6.0e-7},{"t":1178,"v":6.4e-7},{"t":1194,"v":5.9e-7},{"t":1210,"v":6.3e-7},{"t":1226,"v":6.0e-7},{"t":1242,"v":6.5e-7},{"t":1258,"v":5.9e-7},{"t":1274,"v":6.3e-7},{"t":1290,"v":6.0e-7},{"t":1306,"v":6.4e-7},{"t":1322,"v":5.9e-7},{"t":1342,"v":6.2e-7},{"t":1346,"v":1.8e-6},{"t":1350,"v":6.0e-7},{"t":1366,"v":6.4e-7},{"t":1382,"v":5.9e-7},{"t":1398,"v":6.3e-7},{"t":1414,"v":6.0e-7},{"t":1428,"v":6.2e-7},{"t":1432,"v":9.5e-6},{"t":1436,"v":6.1e-7},{"t":1452,"v":6.4e-7},{"t":1468,"v":5.9e-7},{"t":1484,"v":6.3e-7},{"t":1500,"v":6.0e-7},{"t":1506,"v":6.2e-7},{"t":1510,"v":1.15e-5},{"t":1514,"v":6.1e-7},{"t":1530,"v":6.4e-7},{"t":1546,"v":5.9e-7},{"t":1562,"v":6.3e-7},{"t":1578,"v":6.0e-7},{"t":1595,"v":6.3e-7},{"t":1612,"v":7.0e-7},{"t":1624,"v":9.0e-7},{"t":1636,"v":1.8e-6},{"t":1653,"v":2.9e-6},{"t":1661,"v":3.1e-6},{"t":1673,"v":1.5e-6},{"t":1681,"v":9.0e-7},{"t":1686,"v":6.9e-4},{"t":1690,"v":7.6e-6},{"t":1714,"v":1.0e-5},{"t":1734,"v":1.3e-5},{"t":1755,"v":1.55e-5},{"t":1759,"v":1.6e-5},{"t":1763,"v":3.2e-4},{"t":1775,"v":3.8e-4},{"t":1784,"v":3.6e-4},{"t":1796,"v":3.9e-4},{"t":1808,"v":3.7e-4},{"t":1820,"v":4.2e-4},{"t":1828,"v":4.5e-4},{"t":1836,"v":6.4e-4},{"t":1845,"v":5.0e-4},{"t":1857,"v":4.2e-4},{"t":1877,"v":4.0e-4},{"t":1898,"v":4.1e-4},{"t":1918,"v":3.8e-4},{"t":1939,"v":3.9e-4},{"t":1959,"v":3.7e-4},{"t":1979,"v":3.8e-4},{"t":1984,"v":9.5e-4},{"t":2000,"v":1.05e-3},{"t":2020,"v":1.1e-3},{"t":2041,"v":1.05e-3},{"t":2057,"v":1.1e-3},{"t":2061,"v":1.5e-3},{"t":2082,"v":1.3e-3},{"t":2110,"v":1.2e-3},{"t":2135,"v":1.15e-3},{"t":2159,"v":1.1e-3},{"t":2163,"v":2.7e-3},{"t":2176,"v":2.2e-3},{"t":2204,"v":1.9e-3},{"t":2245,"v":1.7e-3},{"t":2278,"v":1.65e-3},{"t":2286,"v":2.05e-3},{"t":2327,"v":2.1e-3},{"t":2368,"v":2.3e-3},{"t":2417,"v":2.4e-3},{"t":2449,"v":2.6e-3},{"t":2482,"v":2.9e-3},{"t":2494,"v":2.8e-3},{"t":2498,"v":5.6e-3},{"t":2531,"v":5.3e-3},{"t":2572,"v":5.1e-3},{"t":2613,"v":4.9e-3},{"t":2653,"v":5.4e-3},{"t":2690,"v":5.6e-3},{"t":2727,"v":5.3e-3},{"t":2768,"v":5.0e-3},{"t":2804,"v":5.2e-3},{"t":2837,"v":4.8e-3},{"t":2874,"v":4.9e-3},{"t":2910,"v":4.6e-3},{"t":2947,"v":4.9e-3},{"t":2985,"v":5.1e-3},{"t":3025,"v":5.6e-3},{"t":3062,"v":6.2e-3},{"t":3100,"v":5.8e-3},{"t":3135,"v":6.0e-3},{"t":3170,"v":5.9e-3},{"t":3209,"v":6.2e-3},{"t":3250,"v":6.3e-3},{"t":3287,"v":6.4e-3},{"t":3320,"v":6.6e-3},{"t":3356,"v":6.9e-3},{"t":3395,"v":7.0e-3},{"t":3433,"v":7.2e-3},{"t":3470,"v":7.5e-3},{"t":3507,"v":7.8e-3},{"t":3545,"v":8.1e-3},{"t":3585,"v":8.3e-3},{"t":3620,"v":8.7e-3},{"t":3654,"v":9.0e-3},{"t":3690,"v":9.5e-3},{"t":3703,"v":1.0e-2},{"t":3711,"v":6.0e-3},{"t":3724,"v":2.0e-3},{"t":3748,"v":1.38e-3},{"t":3760,"v":2.2e-3},{"t":3777,"v":2.6e-3},{"t":3818,"v":3.4e-3},{"t":3871,"v":4.1e-3},{"t":3879,"v":1.3e-2},{"t":3887,"v":9.0e-3},{"t":3895,"v":1.4e-2},{"t":3903,"v":8.0e-3},{"t":3911,"v":1.2e-2},{"t":3919,"v":7.5e-3},{"t":3927,"v":1.35e-2},{"t":3935,"v":9.0e-3},{"t":3943,"v":1.15e-2},{"t":3951,"v":7.2e-3},{"t":3959,"v":1.3e-2},{"t":3967,"v":8.5e-3},{"t":3975,"v":1.2e-2},{"t":3983,"v":7.8e-3},{"t":3991,"v":1.25e-2},{"t":3999,"v":8.8e-3},{"t":4007,"v":1.1e-2},{"t":4015,"v":7.6e-3},{"t":4023,"v":1.2e-2},{"t":4031,"v":8.2e-3},{"t":4039,"v":1.05e-2},{"t":4046,"v":9.0e-3},{"t":4050,"v":3.8e-2},{"t":4054,"v":7.0e-3},{"t":4062,"v":5.2e-3},{"t":4083,"v":2.5e-3},{"t":4104,"v":1.6e-3},{"t":4132,"v":7.0e-4},{"t":4157,"v":4.0e-4},{"t":4165,"v":3.5e-4},{"t":4175,"v":3.9e-4},{"t":4185,"v":3.3e-4},{"t":4195,"v":3.6e-4},{"t":4205,"v":2.9e-4},{"t":4215,"v":3.4e-4},{"t":4225,"v":2.7e-4},{"t":4235,"v":3.3e-4},{"t":4245,"v":2.6e-4},{"t":4255,"v":3.0e-4},{"t":4265,"v":2.2e-4},{"t":4275,"v":3.1e-4},{"t":4285,"v":2.5e-4},{"t":4295,"v":2.9e-4},{"t":4305,"v":2.1e-4},{"t":4315,"v":2.8e-4},{"t":4325,"v":1.6e-4},{"t":4335,"v":2.7e-4},{"t":4345,"v":2.2e-4},{"t":4355,"v":2.9e-4},{"t":4365,"v":1.8e-4},{"t":4375,"v":2.6e-4},{"t":4385,"v":2.2e-4},{"t":4395,"v":2.8e-4},{"t":4405,"v":1.5e-4},{"t":4415,"v":2.7e-4},{"t":4425,"v":2.3e-4},{"t":4435,"v":3.2e-4},{"t":4445,"v":2.4e-4},{"t":4455,"v":3.4e-4},{"t":4465,"v":2.0e-4},{"t":4475,"v":3.0e-4},{"t":4485,"v":2.5e-4},{"t":4495,"v":3.3e-4},{"t":4505,"v":1.9e-4},{"t":4515,"v":3.1e-4},{"t":4525,"v":2.4e-4},{"t":4535,"v":3.6e-4},{"t":4545,"v":2.2e-4},{"t":4555,"v":3.2e-4},{"t":4565,"v":2.6e-4},{"t":4575,"v":4.0e-4},{"t":4585,"v":1.6e-4},{"t":4595,"v":3.6e-4},{"t":4605,"v":2.4e-4},{"t":4615,"v":4.2e-4},{"t":4625,"v":2.8e-4},{"t":4635,"v":4.6e-4},{"t":4645,"v":2.9e-4},{"t":4655,"v":3.9e-4},{"t":4665,"v":2.3e-4},{"t":4675,"v":4.4e-4},{"t":4685,"v":3.2e-4},{"t":4695,"v":5.5e-4},{"t":4705,"v":3.0e-4},{"t":4711,"v":6.5e-4},{"t":4716,"v":5.0e-4}],
"tcpd": [{"t":468,"v":5.5e-7},{"t":476,"v":8.0e-7},{"t":488,"v":7.5e-7},{"t":493,"v":5.2e-7},{"t":509,"v":4.7e-7},{"t":527,"v":5.3e-7},{"t":545,"v":4.8e-7},{"t":563,"v":5.3e-7},{"t":581,"v":4.7e-7},{"t":599,"v":5.2e-7},{"t":617,"v":4.8e-7},{"t":635,"v":5.3e-7},{"t":653,"v":4.7e-7},{"t":671,"v":5.2e-7},{"t":689,"v":4.8e-7},{"t":707,"v":5.3e-7},{"t":725,"v":4.7e-7},{"t":743,"v":5.2e-7},{"t":761,"v":4.8e-7},{"t":779,"v":5.3e-7},{"t":797,"v":4.7e-7},{"t":815,"v":5.2e-7},{"t":833,"v":4.8e-7},{"t":851,"v":5.3e-7},{"t":869,"v":4.7e-7},{"t":887,"v":5.2e-7},{"t":905,"v":4.8e-7},{"t":923,"v":5.3e-7},{"t":941,"v":4.7e-7},{"t":959,"v":5.2e-7},{"t":977,"v":4.8e-7},{"t":995,"v":5.3e-7},{"t":1013,"v":4.8e-7},{"t":1040,"v":5.2e-7},{"t":1044,"v":1.0e-4},{"t":1046,"v":2.0e-4},{"t":1052,"v":2.0e-4},{"t":1056,"v":4.0e-6},{"t":1060,"v":3.9e-6},{"t":1081,"v":4.5e-6},{"t":1105,"v":5.5e-6},{"t":1122,"v":6.2e-6},{"t":1138,"v":6.8e-6},{"t":1142,"v":7.0e-6},{"t":1146,"v":4.2e-7},{"t":1162,"v":3.9e-7},{"t":1178,"v":4.3e-7},{"t":1194,"v":3.8e-7},{"t":1210,"v":4.2e-7},{"t":1226,"v":3.9e-7},{"t":1242,"v":4.4e-7},{"t":1258,"v":3.8e-7},{"t":1274,"v":4.2e-7},{"t":1290,"v":3.9e-7},{"t":1306,"v":4.3e-7},{"t":1322,"v":3.8e-7},{"t":1342,"v":4.1e-7},{"t":1350,"v":3.9e-7},{"t":1366,"v":4.3e-7},{"t":1382,"v":3.8e-7},{"t":1398,"v":4.2e-7},{"t":1414,"v":3.9e-7},{"t":1428,"v":4.1e-7},{"t":1432,"v":3.1e-6},{"t":1436,"v":4.0e-7},{"t":1452,"v":4.3e-7},{"t":1468,"v":3.8e-7},{"t":1484,"v":4.2e-7},{"t":1500,"v":3.9e-7},{"t":1506,"v":4.1e-7},{"t":1510,"v":4.1e-6},{"t":1514,"v":4.0e-7},{"t":1530,"v":4.3e-7},{"t":1546,"v":3.8e-7},{"t":1562,"v":4.2e-7},{"t":1578,"v":3.9e-7},{"t":1595,"v":4.3e-7},{"t":1612,"v":4.5e-7},{"t":1624,"v":6.0e-7},{"t":1636,"v":1.0e-6},{"t":1653,"v":1.6e-6},{"t":1665,"v":1.2e-6},{"t":1677,"v":7.0e-7},{"t":1686,"v":7.4e-5},{"t":1690,"v":3.9e-6},{"t":1714,"v":4.8e-6},{"t":1734,"v":5.8e-6},{"t":1755,"v":7.0e-6},{"t":1759,"v":7.2e-6},{"t":1763,"v":2.0e-4},{"t":1775,"v":1.9e-4},{"t":1796,"v":1.85e-4},{"t":1816,"v":1.95e-4},{"t":1828,"v":2.2e-4},{"t":1836,"v":3.2e-4},{"t":1857,"v":2.0e-4},{"t":1877,"v":1.9e-4},{"t":1898,"v":1.9e-4},{"t":1918,"v":1.8e-4},{"t":1939,"v":1.8e-4},{"t":1967,"v":1.7e-4},{"t":1979,"v":1.8e-4},{"t":1984,"v":5.1e-4},{"t":2000,"v":5.5e-4},{"t":2020,"v":6.0e-4},{"t":2041,"v":6.5e-4},{"t":2057,"v":6.9e-4},{"t":2061,"v":8.5e-4},{"t":2082,"v":7.2e-4},{"t":2110,"v":7.6e-4},{"t":2135,"v":7.8e-4},{"t":2159,"v":8.1e-4},{"t":2163,"v":1.2e-3},{"t":2176,"v":9.5e-4},{"t":2204,"v":8.5e-4},{"t":2245,"v":8.0e-4},{"t":2278,"v":7.6e-4},{"t":2286,"v":1.0e-3},{"t":2327,"v":1.15e-3},{"t":2368,"v":1.25e-3},{"t":2417,"v":1.38e-3},{"t":2449,"v":1.45e-3},{"t":2494,"v":1.5e-3},{"t":2498,"v":2.4e-3},{"t":2531,"v":2.3e-3},{"t":2572,"v":2.2e-3},{"t":2613,"v":2.1e-3},{"t":2653,"v":2.4e-3},{"t":2690,"v":2.5e-3},{"t":2727,"v":2.3e-3},{"t":2768,"v":2.2e-3},{"t":2804,"v":2.4e-3},{"t":2837,"v":2.1e-3},{"t":2874,"v":2.3e-3},{"t":2910,"v":2.2e-3},{"t":2947,"v":2.5e-3},{"t":2985,"v":2.6e-3},{"t":3025,"v":2.8e-3},{"t":3062,"v":2.9e-3},{"t":3100,"v":2.7e-3},{"t":3135,"v":2.8e-3},{"t":3170,"v":2.7e-3},{"t":3209,"v":2.8e-3},{"t":3250,"v":2.9e-3},{"t":3287,"v":2.9e-3},{"t":3320,"v":3.2e-3},{"t":3356,"v":3.3e-3},{"t":3395,"v":3.4e-3},{"t":3433,"v":3.6e-3},{"t":3470,"v":3.7e-3},{"t":3507,"v":3.8e-3},{"t":3545,"v":3.9e-3},{"t":3585,"v":3.9e-3},{"t":3620,"v":4.0e-3},{"t":3654,"v":3.9e-3},{"t":3690,"v":3.8e-3},{"t":3703,"v":4.0e-3},{"t":3711,"v":1.5e-3},{"t":3724,"v":6.5e-4},{"t":3744,"v":5.0e-4},{"t":3777,"v":1.0e-3},{"t":3818,"v":1.38e-3},{"t":3871,"v":1.9e-3},{"t":3879,"v":5.0e-3},{"t":3887,"v":3.3e-3},{"t":3895,"v":6.5e-3},{"t":3903,"v":2.9e-3},{"t":3911,"v":5.2e-3},{"t":3919,"v":3.5e-3},{"t":3927,"v":6.0e-3},{"t":3935,"v":2.8e-3},{"t":3943,"v":5.5e-3},{"t":3951,"v":3.2e-3},{"t":3959,"v":4.8e-3},{"t":3967,"v":2.7e-3},{"t":3975,"v":5.8e-3},{"t":3983,"v":3.0e-3},{"t":3991,"v":5.0e-3},{"t":3999,"v":3.4e-3},{"t":4007,"v":6.2e-3},{"t":4015,"v":2.9e-3},{"t":4023,"v":5.3e-3},{"t":4031,"v":3.6e-3},{"t":4039,"v":5.6e-3},{"t":4046,"v":3.8e-3},{"t":4050,"v":2.0e-2},{"t":4054,"v":4.0e-3},{"t":4062,"v":1.9e-3},{"t":4083,"v":9.0e-4},{"t":4104,"v":5.1e-4},{"t":4132,"v":2.4e-4},{"t":4157,"v":7.4e-5},{"t":4173,"v":5.0e-5},{"t":4197,"v":2.5e-5},{"t":4210,"v":2.7e-5},{"t":4226,"v":2.0e-5},{"t":4240,"v":2.2e-5},{"t":4255,"v":1.6e-5},{"t":4270,"v":1.75e-5},{"t":4285,"v":1.4e-5},{"t":4295,"v":1.33e-5},{"t":4310,"v":1.4e-5},{"t":4328,"v":1.1e-5},{"t":4345,"v":1.2e-5},{"t":4361,"v":1.0e-5},{"t":4375,"v":1.1e-5},{"t":4390,"v":9.3e-6},{"t":4405,"v":1.0e-5},{"t":4420,"v":8.8e-6},{"t":4430,"v":9.6e-6},{"t":4447,"v":8.6e-6},{"t":4451,"v":1.6e-4},{"t":4455,"v":8.8e-6},{"t":4471,"v":8.2e-6},{"t":4485,"v":9.2e-6},{"t":4500,"v":8.1e-6},{"t":4515,"v":9.4e-6},{"t":4532,"v":9.0e-6},{"t":4550,"v":1.05e-5},{"t":4565,"v":1.0e-5},{"t":4580,"v":1.25e-5},{"t":4594,"v":1.15e-5},{"t":4610,"v":1.5e-5},{"t":4625,"v":1.35e-5},{"t":4640,"v":1.75e-5},{"t":4655,"v":1.55e-5},{"t":4670,"v":2.0e-5},{"t":4685,"v":1.8e-5},{"t":4700,"v":2.6e-5},{"t":4710,"v":2.2e-5},{"t":4716,"v":2.9e-5}],
"thresh": [{"t":468,"v":3.4e-3},{"t":3940,"v":3.4e-3},{"t":4022,"v":3.35e-3},{"t":4104,"v":3.25e-3},{"t":4206,"v":3.05e-3},{"t":4308,"v":2.8e-3},{"t":4410,"v":2.55e-3},{"t":4512,"v":2.3e-3},{"t":4614,"v":2.07e-3},{"t":4716,"v":1.83e-3}],
"tdigap": [{"t":468,"v":7.07},{"t":3707,"v":7.07},{"t":3760,"v":110.3},{"t":4716,"v":110.3}],
"tcliagap": [{"t":468,"v":13.7},{"t":3707,"v":13.7},{"t":3715,"v":56.0},{"t":4716,"v":56.0}]
},
"encoding": {
  "x": {"field": "t", "type": "quantitative", "scale": {"domain": [468, 4716], "nice": false, "zero": false},
        "axis": {"values": [1200, 2200, 3200, 4200], "title": null, "labelFontSize": 17, "labelLineHeight": 26, "labelPadding": 6,
                 "labelExpr": "['2018-07-08', timeFormat(datetime(2018, 6, 8, 20, 0, datum.value), '%H:%M:%S')]"}}
},
"layer": [
  {
    "encoding": {
      "y": {"field": "v", "type": "quantitative",
            "scale": {"type": "log", "domain": [1e-7, 0.87], "nice": false},
            "axis": {"orient": "left", "title": "Loss [Gy/s]", "titlePadding": 18,
                     "values": [1e-7,2e-7,3e-7,4e-7,5e-7,6e-7,7e-7,8e-7,9e-7,1e-6,2e-6,3e-6,4e-6,5e-6,6e-6,7e-6,8e-6,9e-6,1e-5,2e-5,3e-5,4e-5,5e-5,6e-5,7e-5,8e-5,9e-5,1e-4,2e-4,3e-4,4e-4,5e-4,6e-4,7e-4,8e-4,9e-4,1e-3,2e-3,3e-3,4e-3,5e-3,6e-3,7e-3,8e-3,9e-3,1e-2,2e-2,3e-2,4e-2,5e-2,6e-2,7e-2,8e-2,9e-2,1e-1,2e-1,3e-1,4e-1,5e-1,6e-1,7e-1,8e-1],
                     "labelExpr": "abs(log(datum.value)/LN10 - round(log(datum.value)/LN10)) < 0.01 ? '10⁻' + substring('¹²³⁴⁵⁶⁷', -round(log(datum.value)/LN10) - 1, -round(log(datum.value)/LN10)) : ''",
                     "tickSize": {"condition": {"test": "abs(log(datum.value)/LN10 - round(log(datum.value)/LN10)) < 0.01", "value": 7}, "value": 4}}}
    },
    "layer": [
      {"data": {"name": "tdi09"}, "mark": {"type": "line", "strokeWidth": 2.5, "clip": true},
       "encoding": {
         "color": {"datum": "TDI loss RS09", "type": "nominal",
                   "scale": {"domain": ["TDI loss RS09","TCLIA loss RS09","TCTPV loss RS09","TDI loss RS12","TCLIA loss RS12","TCTPV loss RS12","TCP.B loss RS09","TCP.C loss RS09","TCP.D loss RS09","TCTPV THRESH RS12"],
                             "range": ["#0000ff","#ffa500","#008000","#0000ff","#ffa500","#008000","#ff00ff","#add8e6","#ffff00","#ff0000"]},
                   "legend": {"orient": "none", "legendX": 10, "legendY": 8, "title": null}},
         "strokeDash": {"datum": "TDI loss RS09", "type": "nominal",
                   "scale": {"domain": ["TDI loss RS09","TCLIA loss RS09","TCTPV loss RS09","TDI loss RS12","TCLIA loss RS12","TCTPV loss RS12","TCP.B loss RS09","TCP.C loss RS09","TCP.D loss RS09","TCTPV THRESH RS12"],
                             "range": [[1,0],[1,0],[1,0],[9,4],[9,4],[9,4],[1,0],[1,0],[1,0],[9,4]]},
                   "legend": {"orient": "none", "legendX": 10, "legendY": 8, "title": null}}}},
      {"data": {"name": "tclia09"}, "mark": {"type": "line", "strokeWidth": 2.5, "clip": true},
       "encoding": {"color": {"datum": "TCLIA loss RS09", "type": "nominal"}, "strokeDash": {"datum": "TCLIA loss RS09", "type": "nominal"}}},
      {"data": {"name": "tctpv09"}, "mark": {"type": "line", "strokeWidth": 2.5, "clip": true},
       "encoding": {"color": {"datum": "TCTPV loss RS09", "type": "nominal"}, "strokeDash": {"datum": "TCTPV loss RS09", "type": "nominal"}}},
      {"data": {"name": "tdi12"}, "mark": {"type": "line", "strokeWidth": 2.2, "clip": true},
       "encoding": {"color": {"datum": "TDI loss RS12", "type": "nominal"}, "strokeDash": {"datum": "TDI loss RS12", "type": "nominal"}}},
      {"data": {"name": "tclia12"}, "mark": {"type": "line", "strokeWidth": 2.2, "clip": true},
       "encoding": {"color": {"datum": "TCLIA loss RS12", "type": "nominal"}, "strokeDash": {"datum": "TCLIA loss RS12", "type": "nominal"}}},
      {"data": {"name": "tctpv12"}, "mark": {"type": "line", "strokeWidth": 2.2, "clip": true},
       "encoding": {"color": {"datum": "TCTPV loss RS12", "type": "nominal"}, "strokeDash": {"datum": "TCTPV loss RS12", "type": "nominal"}}},
      {"data": {"name": "tcpb"}, "mark": {"type": "line", "strokeWidth": 2.5, "clip": true},
       "encoding": {"color": {"datum": "TCP.B loss RS09", "type": "nominal"}, "strokeDash": {"datum": "TCP.B loss RS09", "type": "nominal"}}},
      {"data": {"name": "tcpc"}, "mark": {"type": "line", "strokeWidth": 2.5, "clip": true},
       "encoding": {"color": {"datum": "TCP.C loss RS09", "type": "nominal"}, "strokeDash": {"datum": "TCP.C loss RS09", "type": "nominal"}}},
      {"data": {"name": "tcpd"}, "mark": {"type": "line", "strokeWidth": 2.5, "clip": true},
       "encoding": {"color": {"datum": "TCP.D loss RS09", "type": "nominal"}, "strokeDash": {"datum": "TCP.D loss RS09", "type": "nominal"}}},
      {"data": {"name": "thresh"}, "mark": {"type": "line", "strokeWidth": 2.2, "clip": true},
       "encoding": {"color": {"datum": "TCTPV THRESH RS12", "type": "nominal"}, "strokeDash": {"datum": "TCTPV THRESH RS12", "type": "nominal"}}}
    ]
  },
  {
    "encoding": {
      "y": {"field": "v", "type": "quantitative",
            "scale": {"domain": [1.8, 114.4], "nice": false, "zero": false},
            "axis": {"orient": "right", "title": "Gap [mm]", "titleAngle": 270, "titlePadding": 24, "values": [20, 40, 60, 80, 100]}}
    },
    "layer": [
      {"data": {"name": "tdigap"}, "mark": {"type": "line", "strokeWidth": 2, "clip": true},
       "encoding": {"stroke": {"datum": "TDI gap", "type": "nominal",
                               "scale": {"domain": ["TDI gap", "TCLIA gap"], "range": ["#000000", "#bfbf00"]},
                               "legend": {"orient": "none", "legendX": 870, "legendY": 8, "title": null}}}},
      {"data": {"name": "tcliagap"}, "mark": {"type": "line", "strokeWidth": 2, "clip": true},
       "encoding": {"stroke": {"datum": "TCLIA gap", "type": "nominal"}}}
    ]
  }
],
"resolve": {"scale": {"y": "independent"}}
}
